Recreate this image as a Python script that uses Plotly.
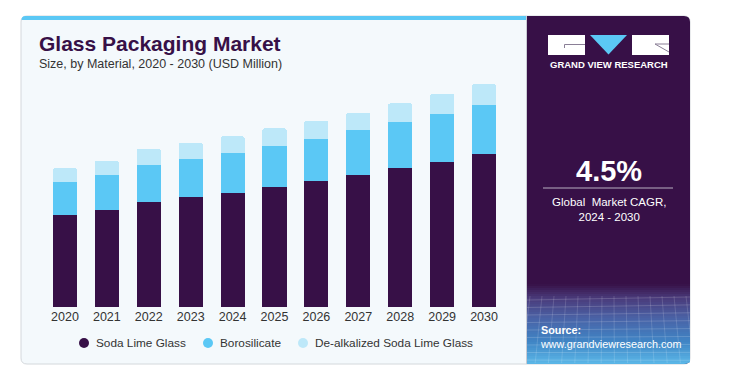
import plotly.graph_objects as go

# ---------------- data ----------------
years = ["2020", "2021", "2022", "2023", "2024", "2025", "2026", "2027", "2028", "2029", "2030"]
series_names = ["Soda Lime Glass", "Borosilicate", "De-alkalized Soda Lime Glass"]
soda_lime = [35.5, 37.4, 40.6, 42.3, 44.1, 46.4, 48.7, 50.9, 53.7, 55.9, 59.0]
borosilicate = [12.8, 13.5, 14.3, 14.8, 15.4, 15.8, 16.2, 17.2, 17.6, 18.5, 19.0]
dealkalized = [5.2, 5.5, 6.0, 6.1, 6.3, 6.6, 6.9, 6.8, 7.2, 7.7, 7.9]
highlight_year = "2023"
highlight_label = "$63.2M"
cagr_value = "4.5%"
cagr_text = "Global  Market CAGR,<br>2024 - 2030"

# ---------------- style ----------------
# the page body has an 8px margin, so the figure is sized to fit inside it
OFF = 8
W, H = 730 - 2 * OFF, 373 - 2 * OFF
DARK = "#371047"
MID = "#5BC8F5"
LIGHT = "#BDE8F9"
CARD = "#F4F9FC"
TXT = "#333333"
FONT = "Liberation Sans, Arial, sans-serif"


def X(px):
    return (px - OFF) / W


def Y(py):
    return 1 - (py - OFF) / H


def rr(x0, y0, x1, y1, tl=0, tr=0, br=0, bl=0):
    p = f"M {X(x0+tl)},{Y(y0)} L {X(x1-tr)},{Y(y0)} "
    p += f"Q {X(x1)},{Y(y0)} {X(x1)},{Y(y0+tr)} L {X(x1)},{Y(y1-br)} "
    p += f"Q {X(x1)},{Y(y1)} {X(x1-br)},{Y(y1)} L {X(x0+bl)},{Y(y1)} "
    p += f"Q {X(x0)},{Y(y1)} {X(x0)},{Y(y1-bl)} L {X(x0)},{Y(y0+tl)} "
    p += f"Q {X(x0)},{Y(y0)} {X(x0+tl)},{Y(y0)} Z"
    return p


fig = go.Figure()
colors = [DARK, MID, LIGHT]
for name, vals, col in zip(series_names, [soda_lime, borosilicate, dealkalized], colors):
    fig.add_trace(go.Bar(x=years, y=vals, name=name, marker=dict(color=col, line=dict(width=0)),
                         showlegend=False))

totals = [a + b + c for a, b, c in zip(soda_lime, borosilicate, dealkalized)]
hi = years.index(highlight_year)

shapes = []
# card
shapes.append(dict(type="path", path=rr(21, 16, 690, 364, 6, 6, 6, 6), xref="paper", yref="paper",
                   fillcolor=CARD, line=dict(color="#D4D8DC", width=1), layer="below"))
# top accent stripe
shapes.append(dict(type="path", path=rr(21.5, 16, 527, 20, 4, 0, 0, 0), xref="paper", yref="paper",
                   fillcolor=MID, line=dict(width=0), layer="below"))
# purple panel
shapes.append(dict(type="path", path=rr(527, 16, 690, 364, 0, 6, 6, 0), xref="paper", yref="paper",
                   fillcolor=DARK, line=dict(width=0), layer="below"))
shapes.append(dict(type="line", x0=X(526.5), x1=X(526.5), y0=Y(16), y1=Y(364), xref="paper", yref="paper",
                   line=dict(color="#C9CBD3", width=1), layer="below"))
# gradient at panel bottom
stops = [(284, (0x37, 0x10, 0x47)), (298, (0x4a, 0x3a, 0x7a)), (318, (0x4a, 0x62, 0xa6)),
         (342, (0x40, 0x86, 0xc6)), (364, (0x5c, 0xb8, 0xe8))]
n = 40
for i in range(n):
    ya = 284 + (364 - 284) * i / n
    yb = 284 + (364 - 284) * (i + 1) / n
    ym = (ya + yb) / 2
    for (s0, c0), (s1, c1) in zip(stops[:-1], stops[1:]):
        if s0 <= ym <= s1:
            t = (ym - s0) / (s1 - s0)
            c = tuple(int(c0[k] + (c1[k] - c0[k]) * t) for k in range(3))
            break
    br = 6 if i == n - 1 else 0
    shapes.append(dict(type="path", path=rr(527, ya, 690, min(yb + 0.6, 364), 0, 0, br, 0), xref="paper",
                       yref="paper", fillcolor="rgb(%d,%d,%d)" % c, line=dict(width=0), layer="below"))
# faint mesh lines
for k in range(9):
    yy = 300 + k * 7.5
    shapes.append(dict(type="line", x0=X(527), x1=X(690), y0=Y(yy), y1=Y(yy - 3 + k * 0.4), xref="paper",
                       yref="paper", line=dict(color="rgba(255,255,255,0.16)", width=1), layer="below"))
for k in range(14):
    xx = 530 + k * 12
    shapes.append(dict(type="line", x0=X(xx), x1=X(xx - 8 + k * 1.2), y0=Y(296), y1=Y(363), xref="paper",
                       yref="paper", line=dict(color="rgba(255,255,255,0.14)", width=1), layer="below"))
# panel divider line
shapes.append(dict(type="line", x0=X(543), x1=X(673), y0=Y(188), y1=Y(188), xref="paper", yref="paper",
                   line=dict(color="#B9AFC2", width=1)))
# logo
shapes.append(dict(type="rect", x0=X(548), x1=X(585), y0=Y(35), y1=Y(55), xref="paper", yref="paper",
                   fillcolor="white", line=dict(width=0)))
shapes.append(dict(type="path", path=f"M {X(590)},{Y(35)} L {X(627)},{Y(35)} L {X(608.5)},{Y(54.5)} Z",
                   xref="paper", yref="paper", fillcolor=MID, line=dict(width=0)))
shapes.append(dict(type="rect", x0=X(632), x1=X(669), y0=Y(35), y1=Y(55), xref="paper", yref="paper",
                   fillcolor="white", line=dict(width=0)))
shapes.append(dict(type="path", path=f"M {X(585)},{Y(44.5)} L {X(564.5)},{Y(44.5)} L {X(564.5)},{Y(48)}",
                   xref="paper", yref="paper", line=dict(color="#8A7F96", width=1)))
shapes.append(dict(type="path", path=f"M {X(655)},{Y(44)} L {X(669)},{Y(44)} M {X(655)},{Y(44)} L {X(669)},{Y(52)}",
                   xref="paper", yref="paper", line=dict(color="#8A7F96", width=1)))

annotations = [
    dict(text="<b>Glass Packaging Market</b>", x=X(37), y=Y(44), xref="paper", yref="paper",
         xanchor="left", yanchor="middle", showarrow=False,
         font=dict(family=FONT, size=21, color=DARK)),
    dict(text="Size, by Material, 2020 - 2030 (USD Million)", x=X(37), y=Y(64), xref="paper", yref="paper",
         xanchor="left", yanchor="middle", showarrow=False,
         font=dict(family=FONT, size=12.5, color=TXT)),
    dict(text=highlight_label, x=highlight_year, y=totals[hi], xref="x", yref="y",
         xanchor="center", yanchor="bottom", yshift=8, showarrow=False,
         font=dict(family=FONT, size=14.5, color=TXT)),
    dict(text="<b>GRAND VIEW RESEARCH</b>", x=X(608.5), y=Y(65), xref="paper", yref="paper",
         xanchor="center", yanchor="middle", showarrow=False,
         font=dict(family=FONT, size=9.5, color="white")),
    dict(text=f"<b>{cagr_value}</b>", x=X(608.5), y=Y(171), xref="paper", yref="paper",
         xanchor="center", yanchor="middle", showarrow=False,
         font=dict(family=FONT, size=29, color="white")),
    dict(text=cagr_text, x=X(608.5), y=Y(209), xref="paper", yref="paper",
         xanchor="center", yanchor="middle", showarrow=False, align="center",
         font=dict(family=FONT, size=11.5, color="white")),
    dict(text="<b>Source:</b><br>www.grandviewresearch.com", x=X(538), y=Y(337), xref="paper", yref="paper",
         xanchor="left", yanchor="middle", showarrow=False, align="left",
         font=dict(family=FONT, size=10.8, color="white")),
]

# legend: round markers + labels
legend_marker_px = [84, 208, 303]
for name, col, mx in zip(series_names, colors, legend_marker_px):
    shapes.append(dict(type="circle", xref="paper", yref="paper",
                       x0=X(mx - 5), x1=X(mx + 5), y0=Y(338), y1=Y(348),
                       fillcolor=col, line=dict(width=0)))
    annotations.append(dict(text=name, x=X(mx + 10), y=Y(343), xref="paper", yref="paper",
                            xanchor="left", yanchor="middle", showarrow=False,
                            font=dict(family=FONT, size=11.8, color=TXT)))

fig.update_layout(
    width=W, height=H,
    margin=dict(l=0, r=0, t=0, b=0, pad=0, autoexpand=False),
    paper_bgcolor="white",
    plot_bgcolor="rgba(0,0,0,0)",
    barmode="stack",
    bargap=0.427,
    barcornerradius=2,
    showlegend=False,
    font=dict(family=FONT, color=TXT),
    xaxis=dict(domain=[X(44), X(505)], type="category", range=[-0.5, len(years) - 0.5], autorange=False,
               showgrid=False, zeroline=False, showline=False,
               ticks="", tickfont=dict(family=FONT, size=12.5, color=TXT), fixedrange=True),
    yaxis=dict(domain=[Y(307), Y(80)], range=[0, 87.48], autorange=False, visible=False, fixedrange=True),
    shapes=shapes,
    annotations=annotations,
)

fig.write_html("out.html")
